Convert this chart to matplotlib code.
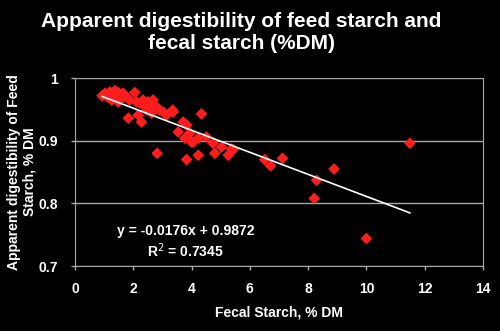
import matplotlib
matplotlib.use("Agg")
import matplotlib.pyplot as plt
import numpy as np

plt.rcParams['font.family'] = ['Liberation Sans', 'DejaVu Sans']

title = "Apparent digestibility of feed starch and\nfecal starch (%DM)"
xlabel = "Fecal Starch, % DM"
ylabel = "Apparent digestibility of Feed\nStarch, % DM"
equation = "y = -0.0176x + 0.9872"
r2_text = "R$^2$ = 0.7345"
slope, intercept = -0.0176, 0.9872

fecal_starch = [0.93, 1.03, 1.2, 1.37, 1.48, 1.31, 1.26, 1.48, 1.65, 1.77,
                2.05, 1.88, 1.83, 2.11, 2.23, 2.17, 2.28, 2.34, 2.51, 2.46,
                2.57, 2.68, 2.74, 2.63, 2.91, 3.03, 3.14, 3.37, 2.82, 4.34,
                3.54, 3.71, 3.83, 3.77, 3.94, 4.06, 4.23, 4.51, 3.83, 4.23,
                4.74, 4.80, 5.03, 5.26, 5.43, 6.51, 6.71, 7.12, 8.29, 8.21,
                8.89, 10.0, 11.49, 1.1, 1.6, 2.4, 3.35, 4.0, 5.37, 1.4]
digestibility = [0.972, 0.976, 0.978, 0.980, 0.977, 0.973, 0.965, 0.962, 0.976, 0.970,
                 0.977, 0.965, 0.936, 0.962, 0.960, 0.941, 0.930, 0.965, 0.962, 0.949,
                 0.954, 0.965, 0.957, 0.944, 0.949, 0.946, 0.941, 0.946, 0.880, 0.943,
                 0.914, 0.930, 0.925, 0.904, 0.912, 0.898, 0.904, 0.906, 0.870, 0.877,
                 0.896, 0.880, 0.890, 0.877, 0.886, 0.870, 0.860, 0.872, 0.837, 0.808,
                 0.855, 0.744, 0.896, 0.970, 0.968, 0.955, 0.949, 0.898, 0.887, 0.975]

xticks = [0, 2, 4, 6, 8, 10, 12, 14]
yticks = [0.7, 0.8, 0.9, 1.0]
ytick_labels = ["0.7", "0.8", "0.9", "1"]

fig = plt.figure(figsize=(5, 3.31), dpi=100, facecolor='black')
ax = fig.add_axes([0.15, 0.196, 0.816, 0.568])
ax.set_facecolor('black')

ax.scatter(fecal_starch, digestibility, marker='D', s=36, color='#ff1c1c',
           edgecolors='none', zorder=3)

xs = np.array([min(fecal_starch), max(fecal_starch)])
ax.plot(xs, slope * xs + intercept, color='white', lw=1.2, zorder=4)

ax.set_xlim(0, 14)
ax.set_ylim(0.7, 1.0)
ax.set_xticks(xticks)
ax.set_yticks(yticks)
ax.set_yticklabels(ytick_labels)
ax.grid(axis='y', color='#a8a8a8', lw=1)
ax.set_axisbelow(True)
for s in ax.spines.values():
    s.set_color('#a8a8a8')
ax.spines['top'].set_visible(False)
ax.tick_params(colors='white', labelsize=10, length=3, width=1, color='#a8a8a8')
ax.tick_params(axis='x', pad=8.5)
ax.tick_params(axis='y', pad=9)
for lab in ax.get_xticklabels() + ax.get_yticklabels():
    lab.set_fontweight('bold')

ax.set_xlabel(xlabel, color='white', fontsize=10, fontweight='bold', labelpad=7)
ax.set_ylabel(ylabel, color='white', fontsize=10, fontweight='bold', labelpad=1.5)

ax.text(3.8, 0.7565, equation, color='white', fontsize=10, fontweight='bold',
        ha='center', va='center')
ax.text(3.8, 0.7246, r2_text, color='white', fontsize=10, fontweight='bold',
        ha='center', va='center')

fig.text(0.483, 0.902, title, color='white', fontsize=15, fontweight='bold',
         ha='center', va='center', linespacing=1.2)

fig.savefig('out.png', dpi=100, facecolor='black')
